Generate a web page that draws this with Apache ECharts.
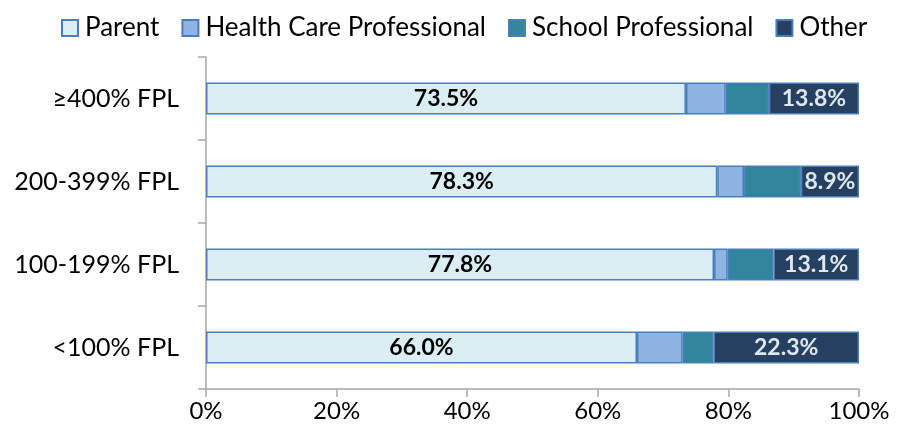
<!DOCTYPE html>
<html>
<head>
<meta charset="utf-8">
<script src="https://cdn.jsdelivr.net/npm/echarts@6/dist/echarts.min.js"></script>
<style>
  html, body { margin: 0; padding: 0; background: #fff; }
  #chart { width: 906px; height: 439px; }
</style>
</head>
<body>
<div id="chart"></div>
<script>
// bottom to top, as the category axis draws them
const categories = ["<100% FPL", "100-199% FPL", "200-399% FPL", "\u2265400% FPL"];
const parentValues = [66.0, 77.8, 78.3, 73.5];
const healthCareValues = [7.0, 2.1, 4.1, 6.1];
const schoolValues = [4.7, 7.0, 8.7, 6.6];
const otherValues = [22.3, 13.1, 8.9, 13.8];
const xTicks = [0, 20, 40, 60, 80, 100];

const fontFamily = "Lato, 'Open Sans', sans-serif";
const borderColor = "#4a7ebb";
const axisColor = "#a6a6a6";

const chart = echarts.init(document.getElementById("chart"), null, { renderer: "canvas" });

function stackSeries(name, data, color, label) {
  return {
    name: name,
    type: "bar",
    stack: "total",
    data: data,
    barWidth: 32,
    itemStyle: { color: color, borderColor: borderColor, borderWidth: 1.5 },
    label: label || { show: false },
    emphasis: { disabled: true }
  };
}

function valueLabel(color) {
  return {
    show: true,
    position: "inside",
    color: color,
    fontSize: 23,
    fontWeight: "bold",
    fontFamily: fontFamily,
    formatter: (p) => p.value.toFixed(1) + "%"
  };
}

chart.setOption({
  animation: false,
  textStyle: { fontFamily: fontFamily },
  legend: {
    top: 10,
    left: 56,
    icon: "rect",
    itemWidth: 16,
    itemHeight: 16,
    itemGap: 22,
    textStyle: { fontFamily: fontFamily, fontSize: 26, color: "#000", padding: [0, 0, 0, 2] },
    data: ["Parent", "Health Care Professional", "School Professional", "Other"]
  },
  grid: { left: 206, right: 47, top: 57, bottom: 50 },
  xAxis: {
    type: "value",
    min: 0,
    max: 100,
    interval: 20,
    axisLine: { show: true, lineStyle: { color: axisColor, width: 1.5 } },
    axisTick: { show: true, inside: false, length: 8, lineStyle: { color: axisColor, width: 1.5 } },
    splitLine: { show: false },
    axisLabel: {
      color: "#000",
      fontSize: 24,
      margin: 10,
      fontFamily: fontFamily,
      formatter: (v) => (xTicks.includes(v) ? v + "%" : "")
    }
  },
  yAxis: {
    type: "category",
    data: categories,
    axisLine: { show: true, lineStyle: { color: axisColor, width: 1.5 } },
    axisTick: { show: true, inside: false, length: 8, lineStyle: { color: axisColor, width: 1.5 } },
    axisLabel: { color: "#000", fontSize: 25, margin: 27, fontFamily: fontFamily }
  },
  series: [
    stackSeries("Parent", parentValues, "#dbeef4", valueLabel("#000")),
    stackSeries("Health Care Professional", healthCareValues, "#8eb4e3"),
    stackSeries("School Professional", schoolValues, "#31859c"),
    stackSeries("Other", otherValues, "#254061", valueLabel("#dfe7f0"))
  ]
});
</script>
</body>
</html>
